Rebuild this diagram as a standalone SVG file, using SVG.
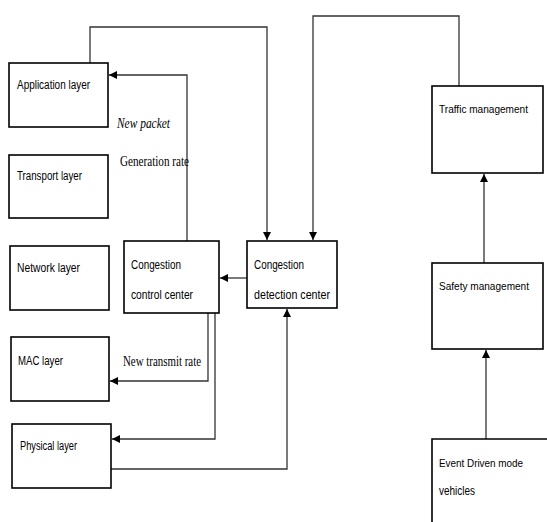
<svg xmlns="http://www.w3.org/2000/svg" width="547" height="522" viewBox="0 0 547 522">
<style>
.box{fill:#fff;stroke:#000;stroke-width:1.6}
.t{font-family:"Liberation Sans",Arial,sans-serif;font-size:12.5px;fill:#000}
.t.sm{font-size:11.5px}
.s{font-family:"Liberation Serif","Times New Roman",serif;font-size:14px;fill:#000}
.c{fill:none;stroke:#333;stroke-width:1.3}
</style>
<defs>
<marker id="ah" viewBox="0 0 10 10" refX="10" refY="5" markerWidth="8" markerHeight="8" markerUnits="userSpaceOnUse" orient="auto">
<path d="M0,0 L10,5 L0,10 z" fill="#000"/>
</marker>
</defs>
<rect width="547" height="522" fill="#fff"/>
<g id="connectors">
<path class="c" d="M90,63 V27 H267 V240" marker-end="url(#ah)"/>
<path class="c" d="M459,86 V16 H313 V240" marker-end="url(#ah)"/>
<path class="c" d="M187,241 V75 H109" marker-end="url(#ah)"/>
<path class="c" d="M247,278 H220" marker-end="url(#ah)"/>
<path class="c" d="M208,309 V381 H110" marker-end="url(#ah)"/>
<path class="c" d="M215,313 V439 H112" marker-end="url(#ah)"/>
<path class="c" d="M111,469 H287 V309" marker-end="url(#ah)"/>
<path class="c" d="M484,263 V174" marker-end="url(#ah)"/>
<path class="c" d="M486,439 V350" marker-end="url(#ah)"/>
</g>
<g id="application">
<rect class="box" x="9" y="63" width="99" height="64"/>
<text class="t" x="17" y="89" textLength="73" lengthAdjust="spacingAndGlyphs">Application layer</text>
</g>
<g id="transport">
<rect class="box" x="9" y="155" width="99" height="63"/>
<text class="t" x="17" y="180" textLength="65" lengthAdjust="spacingAndGlyphs">Transport layer</text>
</g>
<g id="network">
<rect class="box" x="10" y="246" width="99" height="64"/>
<text class="t" x="17" y="272" textLength="63" lengthAdjust="spacingAndGlyphs">Network layer</text>
</g>
<g id="mac">
<rect class="box" x="11" y="337" width="98" height="64"/>
<text class="t" x="18" y="365" textLength="45" lengthAdjust="spacingAndGlyphs">MAC layer</text>
</g>
<g id="physical">
<rect class="box" x="12" y="424" width="99" height="64"/>
<text class="t" x="20" y="450" textLength="57" lengthAdjust="spacingAndGlyphs">Physical layer</text>
</g>
<g id="control">
<rect class="box" x="124" y="241" width="95" height="72"/>
<text class="t" x="131" y="269" textLength="50" lengthAdjust="spacingAndGlyphs">Congestion</text>
<text class="t" x="131" y="299" textLength="62" lengthAdjust="spacingAndGlyphs">control center</text>
</g>
<g id="detection">
<rect class="box" x="247" y="241" width="90" height="67"/>
<text class="t" x="254" y="269" textLength="50" lengthAdjust="spacingAndGlyphs">Congestion</text>
<text class="t" x="254" y="299" textLength="76" lengthAdjust="spacingAndGlyphs">detection  center</text>
</g>
<g id="traffic">
<rect class="box" x="432" y="86" width="111" height="87"/>
<text class="t sm" x="439" y="113" textLength="89" lengthAdjust="spacingAndGlyphs">Traffic management</text>
</g>
<g id="safety">
<rect class="box" x="432" y="263" width="111" height="86"/>
<text class="t sm" x="439" y="290" textLength="90" lengthAdjust="spacingAndGlyphs">Safety management</text>
</g>
<g id="event">
<path class="box" d="M547,439 H432 V522"/>
<text class="t sm" x="439" y="467" textLength="84" lengthAdjust="spacingAndGlyphs">Event Driven mode</text>
<text class="t" x="439" y="495" textLength="36" lengthAdjust="spacingAndGlyphs">vehicles</text>
</g>
<g id="labels">
<text class="s" x="117" y="128" font-style="italic" textLength="53" lengthAdjust="spacingAndGlyphs">New packet</text>
<text class="s" x="120" y="166" textLength="69" lengthAdjust="spacingAndGlyphs">Generation rate</text>
<text class="s" x="123" y="366" textLength="78" lengthAdjust="spacingAndGlyphs">New transmit rate</text>
</g>
</svg>
